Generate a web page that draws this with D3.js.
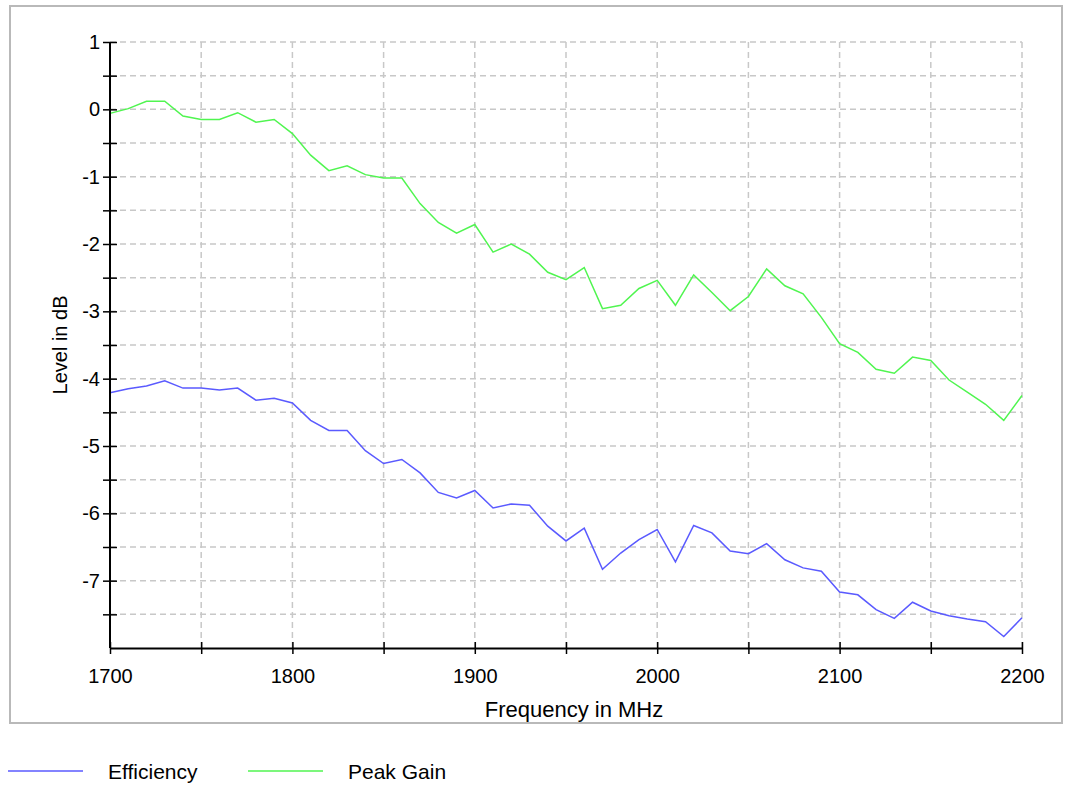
<!DOCTYPE html>
<html lang="en">
<head>
    <meta charset="UTF-8">
    <title>Efficiency and Peak Gain</title>
    <script src="https://d3js.org/d3.v7.min.js"></script>
    <style>
        body { margin: 0; background: #fff; }
        text { font-family: "Liberation Sans", Arial, sans-serif; fill: #000; }
        .grid line { stroke: #c8c8c8; stroke-dasharray: 6 4; stroke-width: 1.5px; }
    </style>
</head>
<body>
    <div id="chart"></div>

    <script>
        // frequency points, 10 MHz step
        const freqs = [1700, 1710, 1720, 1730, 1740, 1750, 1760, 1770, 1780, 1790,
                       1800, 1810, 1820, 1830, 1840, 1850, 1860, 1870, 1880, 1890,
                       1900, 1910, 1920, 1930, 1940, 1950, 1960, 1970, 1980, 1990,
                       2000, 2010, 2020, 2030, 2040, 2050, 2060, 2070, 2080, 2090,
                       2100, 2110, 2120, 2130, 2140, 2150, 2160, 2170, 2180, 2190, 2200];

        const efficiency = [-4.21, -4.15, -4.11, -4.03, -4.14, -4.14, -4.17, -4.14, -4.32, -4.29,
                            -4.36, -4.62, -4.77, -4.77, -5.07, -5.26, -5.20, -5.40, -5.69, -5.77,
                            -5.66, -5.92, -5.86, -5.88, -6.19, -6.41, -6.22, -6.83, -6.59, -6.39,
                            -6.24, -6.72, -6.18, -6.29, -6.56, -6.60, -6.45, -6.69, -6.81, -6.86,
                            -7.17, -7.21, -7.43, -7.56, -7.32, -7.45, -7.52, -7.57, -7.61, -7.83, -7.55];

        const peakGain = [-0.06, 0.01, 0.12, 0.12, -0.10, -0.15, -0.15, -0.05, -0.19, -0.15,
                          -0.36, -0.68, -0.91, -0.84, -0.97, -1.02, -1.02, -1.40, -1.68, -1.84,
                          -1.71, -2.12, -2.00, -2.15, -2.42, -2.53, -2.35, -2.96, -2.91, -2.66,
                          -2.54, -2.91, -2.46, -2.72, -2.99, -2.78, -2.37, -2.62, -2.74, -3.09,
                          -3.48, -3.61, -3.86, -3.92, -3.68, -3.73, -4.02, -4.20, -4.38, -4.62, -4.25];

        const xTickLabels = [1700, 1800, 1900, 2000, 2100, 2200];
        const yTickLabels = [1, 0, -1, -2, -3, -4, -5, -6, -7];

        const seriesNames = ['Efficiency', 'Peak Gain'];
        const seriesColors = ['#5a5aff', '#50f550'];

        const width = 1065, height = 787;
        const margin = { left: 110, top: 42, right: 43, bottom: 139 };
        const plotW = width - margin.left - margin.right;
        const plotH = height - margin.top - margin.bottom;

        const svg = d3.select('#chart').append('svg')
            .attr('width', width)
            .attr('height', height);

        // outer frame
        svg.append('rect')
            .attr('x', 10).attr('y', 6)
            .attr('width', 1052).attr('height', 717)
            .attr('fill', 'none')
            .attr('stroke', '#b9b9b9')
            .attr('stroke-width', 2);

        const g = svg.append('g')
            .attr('transform', `translate(${margin.left},${margin.top})`);

        const x = d3.scaleLinear().domain([1700, 2200]).range([0, plotW]);
        const y = d3.scaleLinear().domain([-8, 1]).range([plotH, 0]);

        const xGrid = d3.range(1750, 2201, 50);
        const yGrid = d3.range(-7.5, 1.01, 0.5);

        // grid
        const grid = g.append('g').attr('class', 'grid');
        grid.selectAll('.vx').data(xGrid).enter().append('line')
            .attr('x1', d => x(d)).attr('x2', d => x(d))
            .attr('y1', 0).attr('y2', plotH);
        grid.selectAll('.hy').data(yGrid).enter().append('line')
            .attr('x1', 0).attr('x2', plotW)
            .attr('y1', d => y(d)).attr('y2', d => y(d));

        // series
        const line = d3.line()
            .x((d, i) => x(freqs[i]))
            .y(d => y(d));

        [efficiency, peakGain].forEach((s, i) => {
            g.append('path')
                .datum(s)
                .attr('fill', 'none')
                .attr('stroke', seriesColors[i])
                .attr('stroke-width', 1.5)
                .attr('d', line);
        });

        // x axis
        const xAxis = g.append('g')
            .attr('transform', `translate(0,${plotH})`)
            .call(d3.axisBottom(x)
                .tickValues(d3.range(1700, 2201, 50))
                .tickSizeInner(6).tickSizeOuter(0)
                .tickFormat(d => xTickLabels.includes(d) ? d : ''));
        xAxis.select('.domain').attr('stroke', '#000').attr('stroke-width', 2);
        xAxis.selectAll('.tick line')
            .attr('y1', -6).attr('y2', 6)
            .attr('stroke-width', 1.5);
        xAxis.selectAll('.tick text')
            .attr('y', 21)
            .style('font-size', '20px');

        // y axis
        const yAxis = g.append('g')
            .call(d3.axisLeft(y)
                .tickValues(d3.range(-7.5, 1.01, 0.5))
                .tickSizeInner(7).tickSizeOuter(0)
                .tickFormat(d => yTickLabels.includes(d) ? d : ''));
        yAxis.select('.domain').attr('stroke', '#000').attr('stroke-width', 2)
            .attr('d', `M0,0V${plotH}`);
        yAxis.selectAll('.tick line')
            .attr('x1', -7).attr('x2', 7)
            .attr('stroke-width', 1.5);
        yAxis.selectAll('.tick text')
            .attr('x', -10)
            .style('font-size', '20px');

        // axis titles
        svg.append('text')
            .attr('x', 574)
            .attr('y', 717)
            .attr('text-anchor', 'middle')
            .style('font-size', '22px')
            .text('Frequency in MHz');

        svg.append('text')
            .attr('transform', 'translate(67,345) rotate(-90)')
            .attr('text-anchor', 'middle')
            .style('font-size', '20px')
            .text('Level in dB');

        // legend
        const legendX = [8, 248];
        const legend = svg.append('g');
        seriesNames.forEach((name, i) => {
            legend.append('line')
                .attr('x1', legendX[i]).attr('x2', legendX[i] + 75)
                .attr('y1', 771).attr('y2', 771)
                .attr('stroke', seriesColors[i])
                .attr('stroke-width', 1.5);
            legend.append('text')
                .attr('x', legendX[i] + 100)
                .attr('y', 779)
                .style('font-size', '21px')
                .text(name);
        });
    </script>
</body>
</html>
